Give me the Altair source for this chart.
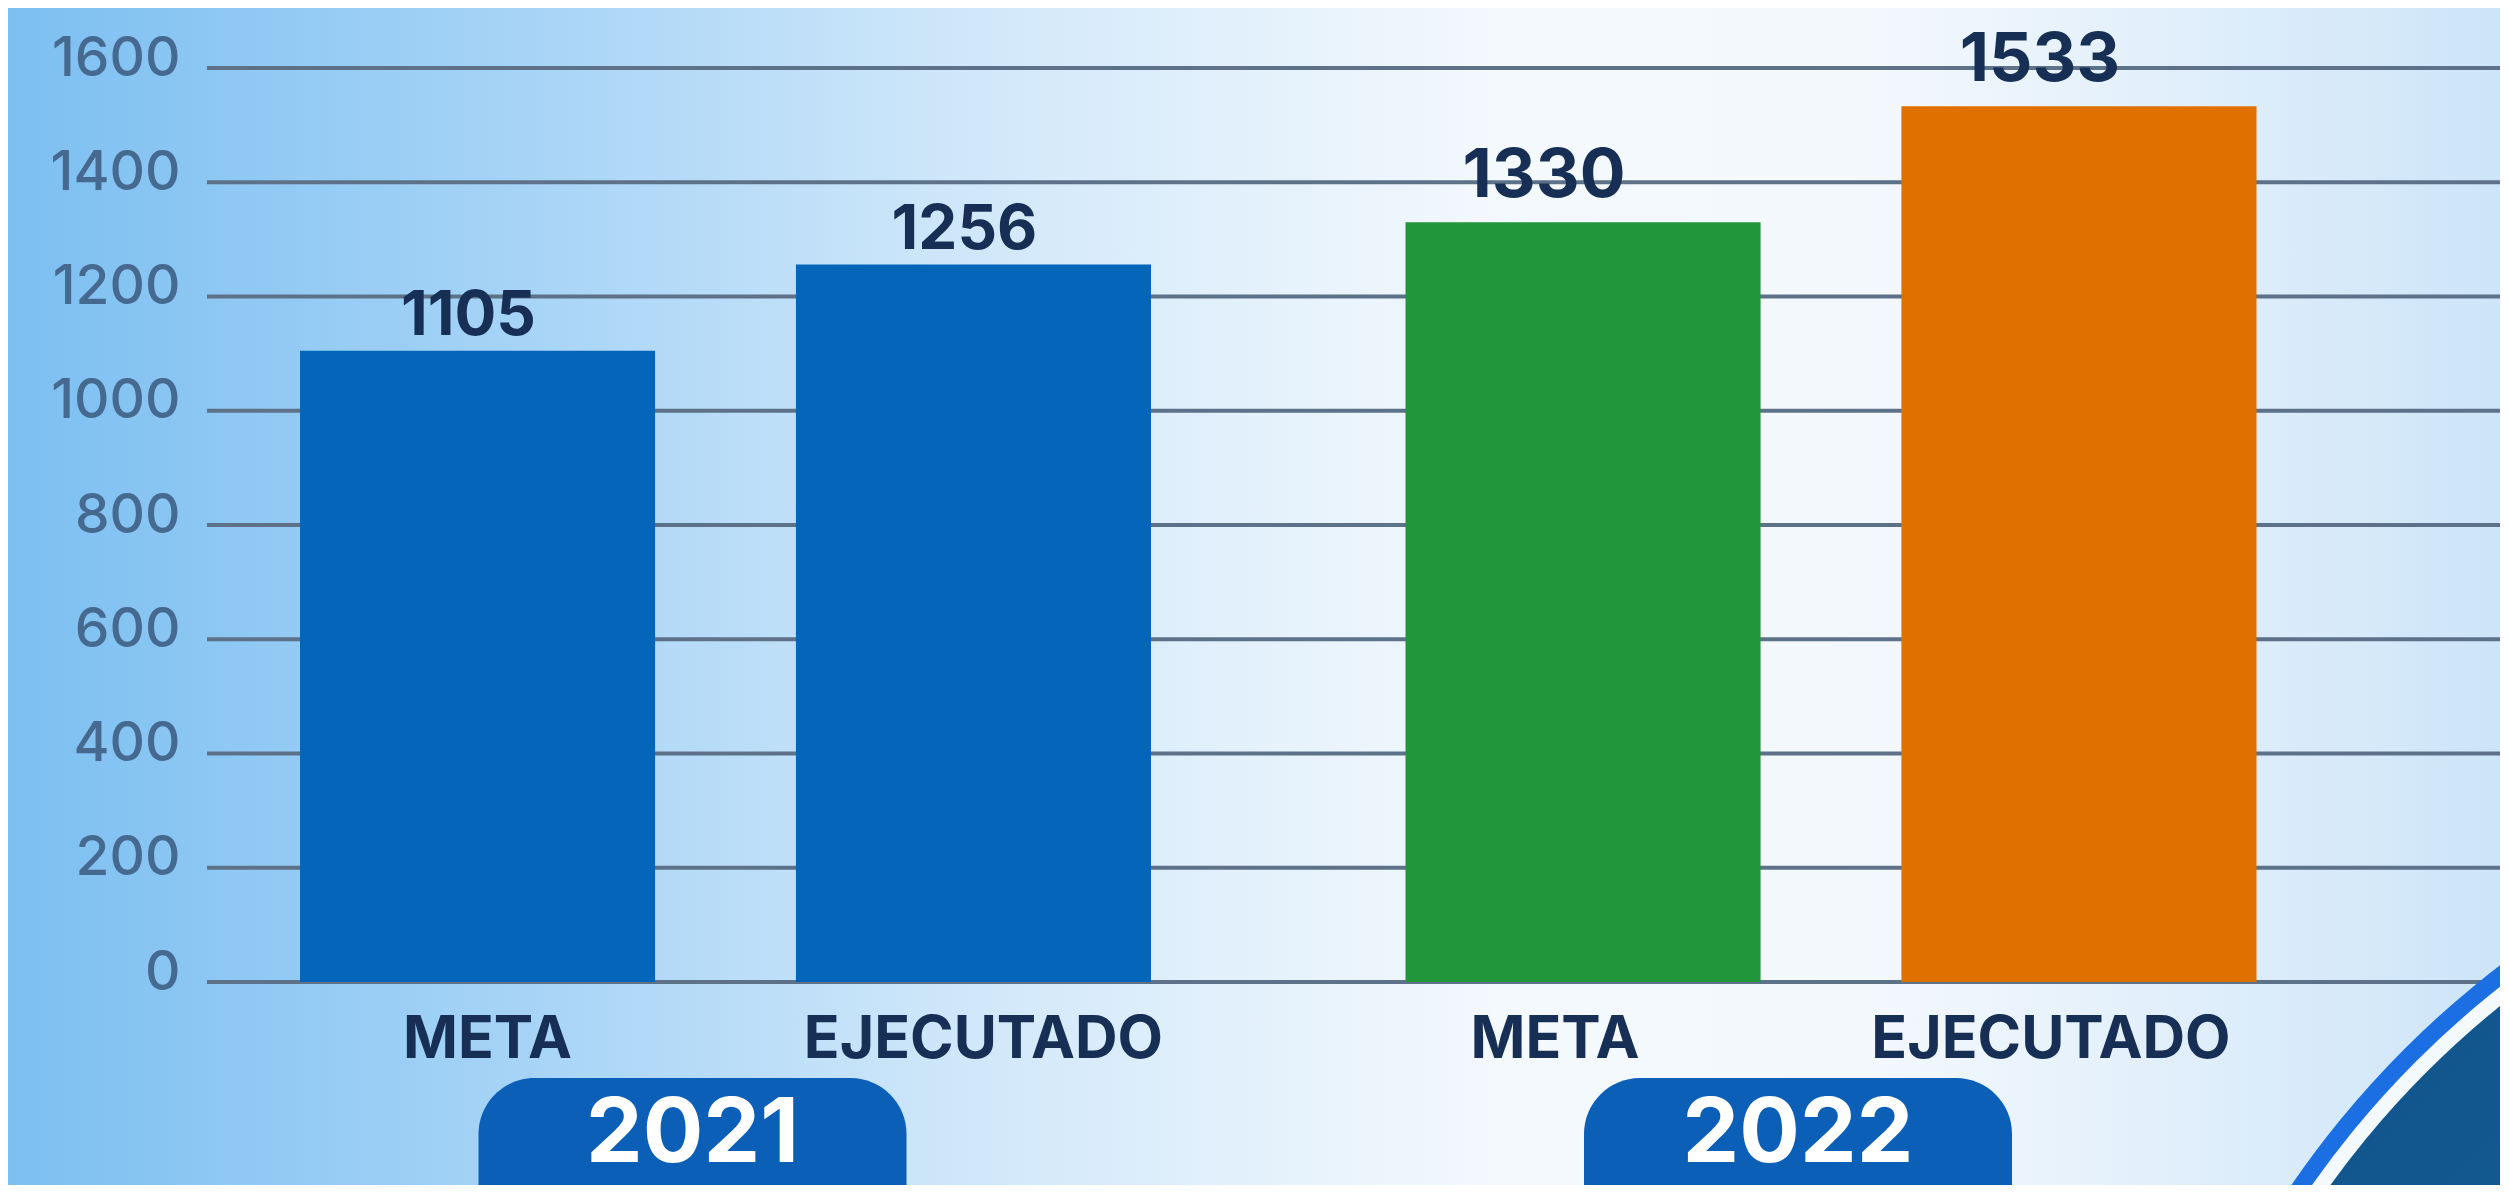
import altair as alt
import pandas as pd

# ---- data ----
years = ["2021", "2021", "2022", "2022"]
categories = ["META", "EJECUTADO", "META", "EJECUTADO"]
values = [1105, 1256, 1330, 1533]
year_labels = ["2021", "2022"]
y_ticks = [0, 200, 400, 600, 800, 1000, 1200, 1400, 1600]

df = pd.DataFrame({
    "year": years,
    "cat": categories,
    "value": values,
    "key": [f"{y} {c}" for y, c in zip(years, categories)],
})
df_years = pd.DataFrame({"year": year_labels})
df_ticks = pd.DataFrame({"tick": y_ticks})
df_one = pd.DataFrame({"k": [0]})

W, H = 2492, 1177
FONT = "Inter"
NAVY = "#172f55"

xscale = alt.Scale(domain=year_labels, range=[292, 2248.5], paddingInner=0.2302, paddingOuter=0)
xoscale = alt.Scale(domain=["META", "EJECUTADO"], paddingInner=0.284, paddingOuter=0)
yscale = alt.Scale(domain=[0, 1600], range=[974, 60], nice=False, zero=True)
yaxis = alt.Axis(values=y_ticks, format="d", orient="left", offset=-180, labelPadding=8, ticks=False,
                 domain=False, grid=False, title=None, labelFontSize=55, labelFont=FONT,
                 labelFontWeight=500, labelColor="#46698f", labelOffset=-10,
                 labelBaseline="middle", labelOverlap=False, zindex=1)

X = alt.X("year:N", scale=xscale, axis=None)
XO = alt.XOffset("cat:N", scale=xoscale)
Y = alt.Y("value:Q", scale=yscale, axis=yaxis)

bg_grad = alt.Gradient(
    gradient="linear", x1=0, x2=1, y1=0, y2=0,
    stops=[
        alt.GradientStop(color="#7cbff1", offset=0),
        alt.GradientStop(color="#a5d3f6", offset=0.2),
        alt.GradientStop(color="#d3e9fa", offset=0.4),
        alt.GradientStop(color="#f4f9fd", offset=0.6),
        alt.GradientStop(color="#f3f8fd", offset=0.75),
        alt.GradientStop(color="#cde5f8", offset=1),
    ],
)
background = alt.Chart(df_one).mark_rect(fill=bg_grad).encode(
    x=alt.value(0), x2=alt.value(W), y=alt.value(0), y2=alt.value(H)
)

grid = alt.Chart(df_ticks).mark_rule(color="#5d7289", strokeWidth=4).encode(
    x=alt.value(199), x2=alt.value(W),
    y=alt.Y("tick:Q", scale=yscale, axis=yaxis),
)

# decorative ring in the lower right corner
ring_outer = alt.Chart(df_one).mark_circle(fill="#1b6fe2", opacity=1).encode(
    x=alt.value(3075), y=alt.value(1720), size=alt.value(4 * 960 * 960)
)
ring_white = alt.Chart(df_one).mark_circle(fill="#f4f9fd", opacity=1).encode(
    x=alt.value(3075), y=alt.value(1720), size=alt.value(4 * 943 * 943)
)
inner_grad = alt.Gradient(
    gradient="linear", x1=0, x2=1, y1=0, y2=1,
    stops=[
        alt.GradientStop(color="#0e4c82", offset=0.0),
        alt.GradientStop(color="#1a6ea8", offset=0.5),
        alt.GradientStop(color="#2a8fcf", offset=1.0),
    ],
)
ring_inner = alt.Chart(df_one).mark_circle(fill=inner_grad, opacity=1).encode(
    x=alt.value(3075), y=alt.value(1720), size=alt.value(4 * 928 * 928)
)

bars = alt.Chart(df).mark_bar().encode(
    x=X, xOffset=XO, y=Y,
    color=alt.Color("key:N", legend=None, scale=alt.Scale(
        domain=list(df["key"]),
        range=["#0565b8", "#0565b8", "#22963a", "#e07000"])),
)

val21 = alt.Chart(df).transform_filter(alt.datum.year == "2021").mark_text(
    font=FONT, fontSize=62, fontWeight="bold", color=NAVY, baseline="alphabetic", dy=-16, dx=-9
).encode(x=X, xOffset=XO, y=Y, text=alt.Text("value:Q"))

val22 = alt.Chart(df).transform_filter(alt.datum.year == "2022").mark_text(
    font=FONT, fontSize=68, fontWeight="bold", color=NAVY, baseline="alphabetic", dy=-25, dx=-39
).encode(x=X, xOffset=XO, y=Y, text=alt.Text("value:Q"))

cat21 = alt.Chart(df).transform_filter(alt.datum.year == "2021").mark_text(
    font=FONT, fontSize=59, fontWeight="bold", color=NAVY, baseline="middle", dx=10
).encode(x=X, xOffset=XO, y=alt.value(1032), text="cat:N")

cat22 = alt.Chart(df).transform_filter(alt.datum.year == "2022").mark_text(
    font=FONT, fontSize=59, fontWeight="bold", color=NAVY, baseline="middle", dx=-28
).encode(x=X, xOffset=XO, y=alt.value(1032), text="cat:N")

pills = alt.Chart(df_years).mark_bar(
    width=428, xOffset=-33, cornerRadius=56, color="#0b5fb7"
).encode(x=X, y=alt.value(1070), y2=alt.value(1260))

year_txt = alt.Chart(df_years).mark_text(
    font=FONT, fontSize=90, fontWeight="bold", color="white", baseline="middle", dx=-33
).encode(x=X, y=alt.value(1127), text="year:N")

chart = alt.layer(
    background, grid, ring_outer, ring_white, ring_inner,
    bars, val21, val22, cat21, cat22, pills, year_txt
).properties(
    width=W, height=H,
    autosize=alt.AutoSizeParams(type="none"),
    padding=0,
).configure_view(stroke=None)

chart.save("out.html", embed_options={"renderer": "svg", "actions": False})
